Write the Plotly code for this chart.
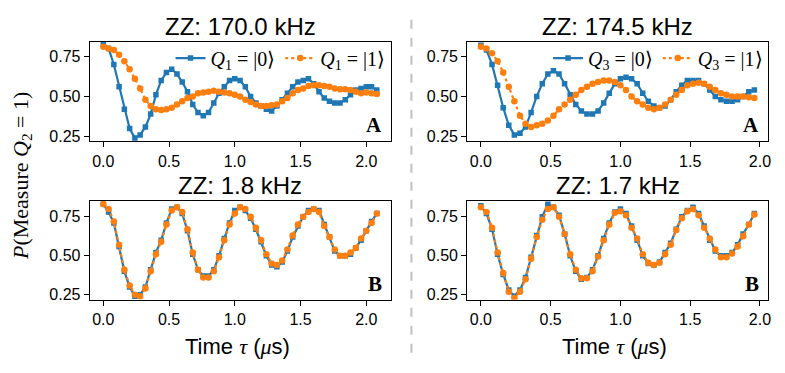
import plotly.graph_objects as go

# ---------------- data ----------------
time_left = [0.00, 0.04, 0.08, 0.12, 0.16, 0.20, 0.24, 0.28, 0.32, 0.36, 0.40, 0.44, 0.48, 0.52,
             0.56, 0.60, 0.64, 0.68, 0.72, 0.76, 0.80, 0.84, 0.88, 0.92, 0.96, 1.00, 1.04, 1.08,
             1.12, 1.16, 1.20, 1.24, 1.28, 1.32, 1.36, 1.40, 1.44, 1.48, 1.52, 1.56, 1.60, 1.64,
             1.68, 1.72, 1.76, 1.80, 1.84, 1.88, 1.92, 1.96, 2.00, 2.04, 2.08]
time_right = [0.00, 0.04, 0.08, 0.12, 0.16, 0.20, 0.24, 0.28, 0.32, 0.36, 0.40, 0.44, 0.48, 0.52,
              0.56, 0.60, 0.64, 0.68, 0.72, 0.76, 0.80, 0.84, 0.88, 0.92, 0.96, 1.00, 1.04, 1.08,
              1.12, 1.16, 1.20, 1.24, 1.28, 1.32, 1.36, 1.40, 1.44, 1.48, 1.52, 1.56, 1.60, 1.64,
              1.68, 1.72, 1.76, 1.80, 1.84, 1.88, 1.92, 1.96]

# Panel A (left): Q1 = |0>, Q1 = |1>
a_left_q0 = [0.83, 0.80, 0.70, 0.56, 0.42, 0.30, 0.24, 0.26, 0.31, 0.39, 0.51, 0.60, 0.65, 0.67,
             0.64, 0.59, 0.53, 0.45, 0.40, 0.38, 0.40, 0.46, 0.52, 0.56, 0.60, 0.61, 0.60, 0.56,
             0.50, 0.46, 0.44, 0.42, 0.41, 0.44, 0.48, 0.52, 0.56, 0.59, 0.60, 0.61, 0.58, 0.53,
             0.49, 0.47, 0.46, 0.46, 0.48, 0.51, 0.54, 0.55, 0.56, 0.56, 0.54]
a_left_q1 = [0.81, 0.80, 0.79, 0.76, 0.72, 0.67, 0.61, 0.55, 0.48, 0.44, 0.42, 0.415, 0.42, 0.43,
             0.45, 0.47, 0.49, 0.50, 0.52, 0.525, 0.53, 0.535, 0.53, 0.525, 0.52, 0.51, 0.50, 0.48,
             0.465, 0.45, 0.44, 0.44, 0.445, 0.45, 0.47, 0.49, 0.52, 0.54, 0.55, 0.565, 0.57, 0.57,
             0.565, 0.56, 0.55, 0.545, 0.545, 0.54, 0.53, 0.52, 0.525, 0.52, 0.515]

# Panel A (right): Q3 = |0>, Q3 = |1>
a_right_q0 = [0.82, 0.79, 0.70, 0.57, 0.43, 0.32, 0.26, 0.27, 0.31, 0.40, 0.50, 0.58, 0.64, 0.66,
              0.64, 0.58, 0.51, 0.45, 0.41, 0.39, 0.39, 0.41, 0.46, 0.52, 0.58, 0.61, 0.62, 0.61,
              0.58, 0.52, 0.47, 0.44, 0.43, 0.44, 0.48, 0.53, 0.57, 0.60, 0.60, 0.60, 0.58, 0.54,
              0.50, 0.48, 0.47, 0.47, 0.48, 0.50, 0.53, 0.54]
a_right_q1 = [0.81, 0.80, 0.77, 0.72, 0.65, 0.56, 0.47, 0.38, 0.33, 0.31, 0.32, 0.33, 0.35, 0.38,
              0.42, 0.45, 0.48, 0.51, 0.54, 0.56, 0.58, 0.59, 0.60, 0.60, 0.59, 0.57, 0.54, 0.50,
              0.47, 0.45, 0.43, 0.42, 0.43, 0.45, 0.48, 0.51, 0.54, 0.57, 0.58, 0.585, 0.58, 0.56,
              0.54, 0.52, 0.51, 0.50, 0.50, 0.50, 0.495, 0.49]

# Panel B (left)
b_left_q0 = [0.83, 0.78, 0.71, 0.56, 0.40, 0.30, 0.24, 0.25, 0.30, 0.41, 0.52, 0.60, 0.71, 0.80,
             0.81, 0.77, 0.66, 0.51, 0.41, 0.37, 0.37, 0.41, 0.50, 0.61, 0.71, 0.79, 0.81, 0.79,
             0.74, 0.67, 0.59, 0.50, 0.44, 0.43, 0.46, 0.53, 0.62, 0.69, 0.75, 0.79, 0.80, 0.79,
             0.70, 0.62, 0.53, 0.50, 0.50, 0.51, 0.55, 0.60, 0.66, 0.72, 0.77]
b_left_q1 = [0.83, 0.80, 0.72, 0.57, 0.41, 0.31, 0.25, 0.24, 0.29, 0.40, 0.51, 0.59, 0.70, 0.79,
             0.81, 0.78, 0.67, 0.52, 0.41, 0.36, 0.36, 0.40, 0.49, 0.60, 0.70, 0.77, 0.81, 0.80,
             0.75, 0.68, 0.60, 0.51, 0.45, 0.44, 0.47, 0.54, 0.63, 0.70, 0.75, 0.78, 0.80, 0.78,
             0.69, 0.62, 0.54, 0.50, 0.50, 0.52, 0.55, 0.61, 0.66, 0.71, 0.77]

# Panel B (right)
b_right_q0 = [0.82, 0.77, 0.67, 0.51, 0.38, 0.28, 0.24, 0.28, 0.36, 0.49, 0.63, 0.75, 0.83, 0.81,
              0.76, 0.64, 0.50, 0.40, 0.35, 0.36, 0.41, 0.50, 0.61, 0.71, 0.78, 0.80, 0.77, 0.69,
              0.60, 0.50, 0.45, 0.44, 0.46, 0.52, 0.58, 0.67, 0.75, 0.79, 0.81, 0.77, 0.69, 0.60,
              0.53, 0.50, 0.50, 0.52, 0.57, 0.64, 0.70, 0.77]
b_right_q1 = [0.81, 0.78, 0.68, 0.52, 0.39, 0.27, 0.23, 0.27, 0.35, 0.48, 0.62, 0.73, 0.80, 0.81,
              0.75, 0.64, 0.51, 0.41, 0.355, 0.355, 0.40, 0.495, 0.60, 0.70, 0.775, 0.785, 0.76, 0.68,
              0.61, 0.51, 0.455, 0.44, 0.455, 0.51, 0.57, 0.665, 0.74, 0.785, 0.80, 0.76, 0.68, 0.61,
              0.54, 0.49, 0.49, 0.515, 0.56, 0.625, 0.70, 0.765]

titles = ["ZZ: 170.0 kHz", "ZZ: 174.5 kHz", "ZZ: 1.8 kHz", "ZZ: 1.7 kHz"]
panel_tags = ["A", "A", "B", "B"]
x_tickvals = [0.0, 0.5, 1.0, 1.5, 2.0]
x_ticktext = ["0.0", "0.5", "1.0", "1.5", "2.0"]
y_tickvals = [0.25, 0.50, 0.75]
y_ticktext = ["0.25", "0.50", "0.75"]

# ---------------- layout helpers ----------------
W, H = 785, 373
BLUE = "#1f77b4"
ORANGE = "#ff7f0e"
SANS = "Liberation Sans, Arial, sans-serif"
SERIF = "Liberation Serif, Times New Roman, serif"

def px_x(p):
    return p / W

def px_y(p):
    return 1 - p / H

# panel boxes in pixels: (left, right, top, bottom)
boxes = [
    (90, 392, 42, 143),
    (469, 771, 42, 143),
    (90, 392, 203, 303),
    (469, 771, 203, 303),
]
xranges = [[-0.104, 2.184], [-0.098, 2.058], [-0.104, 2.184], [-0.098, 2.058]]
yranges = [[0.219, 0.843], [0.219, 0.843], [0.218, 0.852], [0.218, 0.852]]

fig = go.Figure()

series = [
    (time_left, a_left_q0, a_left_q1, "<i>Q</i><sub>1</sub> = |0⟩", "<i>Q</i><sub>1</sub> = |1⟩", "legend"),
    (time_right, a_right_q0, a_right_q1, "<i>Q</i><sub>3</sub> = |0⟩", "<i>Q</i><sub>3</sub> = |1⟩", "legend2"),
    (time_left, b_left_q0, b_left_q1, None, None, None),
    (time_right, b_right_q0, b_right_q1, None, None, None),
]

for i, (t, q0, q1, n0, n1, leg) in enumerate(series):
    k = "" if i == 0 else str(i + 1)
    show = n0 is not None
    fig.add_trace(go.Scatter(
        x=t, y=q0, mode="lines+markers", name=n0 or "Q=|0⟩",
        line=dict(color=BLUE, width=2.2),
        marker=dict(symbol="square", size=5.5, color=BLUE),
        xaxis="x" + k, yaxis="y" + k, showlegend=show,
        **({"legend": leg} if show else {})))
    fig.add_trace(go.Scatter(
        x=t, y=q1, mode="lines+markers", name=n1 or "Q=|1⟩",
        line=dict(color=ORANGE, width=2.2, dash="dot"),
        marker=dict(symbol="circle", size=6.5, color=ORANGE),
        xaxis="x" + k, yaxis="y" + k, showlegend=show,
        **({"legend": leg} if show else {})))

axis_common = dict(showline=True, mirror=True, linecolor="black", linewidth=1,
                   ticks="outside", ticklen=5, tickcolor="black", tickwidth=1,
                   showgrid=False, zeroline=False,
                   tickfont=dict(family=SANS, size=16, color="black"))

layout = {}
annotations = []
for i, (l, r, tp, bt) in enumerate(boxes):
    k = "" if i == 0 else str(i + 1)
    layout["xaxis" + k] = dict(domain=[px_x(l), px_x(r)], range=xranges[i],
                               anchor="y" + k, tickvals=x_tickvals, ticktext=x_ticktext,
                               **axis_common)
    layout["yaxis" + k] = dict(domain=[px_y(bt), px_y(tp)], range=yranges[i],
                               anchor="x" + k, tickvals=y_tickvals, ticktext=y_ticktext,
                               **axis_common)
    annotations.append(dict(text=titles[i], xref="paper", yref="paper",
                            x=px_x((l + r) / 2), y=px_y(tp), xanchor="center", yanchor="bottom",
                            yshift=0, showarrow=False,
                            font=dict(family=SANS, size=24, color="black")))
    annotations.append(dict(text="<b>" + panel_tags[i] + "</b>", xref="paper", yref="paper",
                            x=px_x(r - 7), y=px_y(bt - 2), xanchor="right", yanchor="bottom",
                            showarrow=False,
                            font=dict(family=SERIF, size=21, color="black")))

# x labels
for (l, r) in [(90, 392), (469, 771)]:
    annotations.append(dict(
        text='Time <span style="font-family:Liberation Serif"><i>τ</i></span> (<span style="font-family:Liberation Serif"><i>μ</i></span>s)',
        xref="paper", yref="paper", x=px_x((l + r) / 2 - 3), y=px_y(350),
        xanchor="center", yanchor="middle", showarrow=False,
        font=dict(family=SANS, size=22, color="black")))

# y label
annotations.append(dict(
    text="<i>P</i>(Measure <i>Q</i><sub>2</sub> = 1)",
    xref="paper", yref="paper", x=px_x(22), y=px_y(178), textangle=-90,
    xanchor="center", yanchor="middle", showarrow=False,
    font=dict(family=SERIF, size=22, color="black")))

legend_common = dict(orientation="h", bgcolor="rgba(0,0,0,0)", borderwidth=0,
                     font=dict(family=SERIF, size=20, color="black"),
                     xanchor="right", yanchor="top", itemwidth=30,
                     tracegroupgap=0)

fig.update_layout(
    width=W, height=H,
    margin=dict(l=0, r=0, t=0, b=0),
    paper_bgcolor="white", plot_bgcolor="white",
    showlegend=True,
    legend=dict(x=px_x(392), y=px_y(39), **legend_common),
    legend2=dict(x=px_x(771), y=px_y(39), **legend_common),
    annotations=annotations,
    shapes=[dict(type="line", xref="paper", yref="paper",
                 x0=px_x(413), x1=px_x(413), y0=px_y(20), y1=px_y(362),
                 line=dict(color="#c0c0c0", width=2, dash="dash"))],
    **layout,
)

fig.write_html("out.html",
               config={"displayModeBar": False},
               post_script="document.body.style.margin='0';document.body.style.padding='0';")
